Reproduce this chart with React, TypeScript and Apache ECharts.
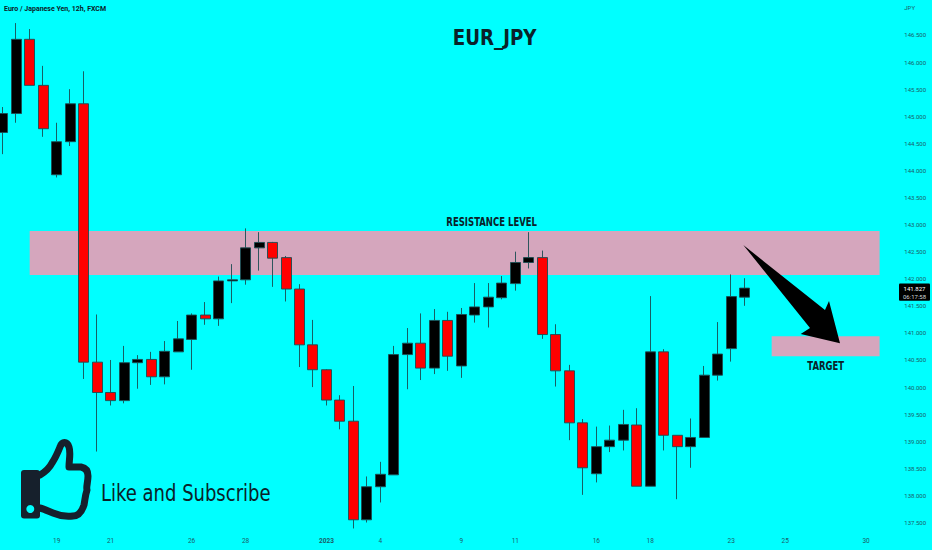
import React, { useEffect, useRef } from "react";
import * as echarts from "echarts";

const opens = [144.7,145.05,146.42,145.57,143.92,144.53,145.23,140.46,139.9,139.75,140.45,140.51,140.19,140.65,140.88,141.33,141.26,141.96,141.98,142.57,142.67,142.39,141.81,140.78,140.32,139.76,139.37,137.55,138.16,138.38,140.6,140.81,140.35,141.23,140.39,141.33,141.48,141.65,141.91,142.3,142.39,140.97,140.3,139.34,138.4,138.9,139.02,139.3,138.17,140.65,139.11,138.9,139.07,140.22,140.71,141.66];
const closes = [145.05,146.42,145.57,144.77,144.53,145.23,140.46,139.9,139.75,140.45,140.51,140.19,140.66,140.89,141.33,141.26,141.96,141.98,142.57,142.67,142.38,141.81,140.78,140.32,139.76,139.37,137.55,138.16,138.39,140.6,140.81,140.35,141.23,140.57,141.34,141.48,141.66,141.92,142.3,142.39,140.97,140.3,139.34,138.51,138.9,139.02,139.31,138.17,140.65,139.11,138.9,139.07,140.22,140.61,141.67,141.827];
const lows = [144.3,144.88,145.57,144.62,143.87,144.45,140.15,138.81,139.66,139.7,139.97,140.04,140.05,140.65,140.32,141.15,141.13,141.55,141.89,142.15,141.85,141.58,140.37,140.0,139.66,139.22,137.39,137.5,137.87,138.38,139.96,140.13,140.24,140.3,140.17,141.19,141.1,141.62,141.78,142.19,140.89,140.01,139.02,138.01,138.24,138.8,138.83,138.17,138.17,138.83,137.93,138.51,139.07,140.12,140.47,141.5];
const highs = [145.17,146.72,146.61,145.93,144.88,145.5,145.83,141.34,140.5,140.76,140.59,140.65,140.85,141.22,141.36,141.57,142.04,142.27,142.93,142.86,142.68,142.42,141.9,141.24,140.33,139.85,140.02,138.35,138.62,140.76,141.09,141.36,141.44,141.39,141.46,141.92,141.92,142.05,142.5,142.86,142.52,141.16,140.41,139.41,139.27,139.29,139.58,139.61,141.68,140.7,139.11,139.42,140.39,141.2,142.08,142.01];
const dateLabels = ["","","","","19","","","","21","","","","","","26","","","","28","","","","","","2023","","","","4","","","","","","9","","","","11","","","","","","16","","","","18","","","","","","23","","","","25","","","","","","30",""];
const resistanceZone = [142.88, 142.07];
const targetZone = [140.94, 140.57];
const zoneStart = { resistance: 2, target: 57 };
const zoneEnd = 65;
const lastPrice = "141.827";
const countdown = "06:17:58";

const thumbPath = "M40 475 C45 472 49 469 52 463 C56 457 58 452 60 447 C62 441 67 441 69 447 C71 453 69 460 69 467 L81 467 C86 468 88 471 88 476 C88 482 86 487 87 490 C85 496 85 500 84 505 C82 511 79 516 73 516 C66 517 60 516 53 513 C48 511 44 509 40 508";

const DARK = "#0a2229";
const AXIS_TEXT = "#1c5c68";
const FONT = "'DejaVu Sans', sans-serif";

export default function App() {
  const ref = useRef<HTMLDivElement>(null);
  useEffect(() => {
    document.body.style.margin = "0";
    document.body.style.overflow = "hidden";
    echarts.graphic.registerShape("thumbLine", echarts.graphic.extendPath(thumbPath, {}));
    const chart = echarts.init(ref.current!, null, { renderer: "svg" });
    chart.setOption({
      animation: false,
      backgroundColor: "#00ffff",
      grid: { left: 2.7, right: 52.4, top: 7.9, bottom: 27.5, containLabel: false },
      xAxis: {
        type: "category",
        data: dateLabels,
        boundaryGap: false,
        axisLine: { show: false },
        axisTick: { show: false },
        splitLine: { show: false },
        axisLabel: {
          interval: (_i: number, v: string) => v !== "",
          formatter: (v: string) => (v === "2023" ? "{b|2023}" : v),
          color: AXIS_TEXT,
          fontSize: 6.5,
          fontFamily: "Roboto",
          margin: 15,
          rich: { b: { fontWeight: "bold", color: AXIS_TEXT, fontSize: 6.5, fontFamily: "Roboto" } },
        },
      },
      yAxis: {
        type: "value",
        position: "right",
        min: 137.5,
        max: 147,
        interval: 0.5,
        scale: true,
        axisLine: { show: false },
        axisTick: { show: false },
        splitLine: { show: false },
        axisLabel: {
          align: "left",
          margin: 24.7,
          color: AXIS_TEXT,
          fontSize: 6,
          fontFamily: "Roboto",
          formatter: (v: number) => (v === 147 ? "JPY" : v.toFixed(3)),
        },
      },
      series: [
        {
          type: "candlestick",
          clip: false,
          barWidth: 10.5,
          data: opens.map((o, i) => [o, closes[i], lows[i], highs[i]]),
          itemStyle: {
            color: "#000000",
            color0: "#ff0000",
            borderColor: "#1a4d52",
            borderColor0: "#1a4d52",
            borderWidth: 0.9,
          },
          markArea: {
            silent: true,
            label: { show: false },
            itemStyle: { color: "#d5a6bd", opacity: 1 },
            data: [
              [{ xAxis: zoneStart.resistance, yAxis: resistanceZone[0] }, { xAxis: zoneEnd, yAxis: resistanceZone[1] }],
              [{ xAxis: zoneStart.target, yAxis: targetZone[0] }, { xAxis: zoneEnd, yAxis: targetZone[1] }],
            ],
          },
        },
      ],
      graphic: [
        { type: "text", z: 100, x: 4, y: 5, silent: true, style: { text: "Euro / Japanese Yen, 12h, FXCM", fill: DARK, font: "bold 7px Roboto" } },
        { type: "text", z: 100, x: 494.7, y: 38.3, scaleX: 0.89, silent: true, style: { text: "EUR_JPY", fill: DARK, font: `bold 20.5px ${FONT}`, align: "center", verticalAlign: "middle" } },
        { type: "text", z: 100, x: 491.7, y: 221.7, scaleX: 0.74, silent: true, style: { text: "RESISTANCE LEVEL", fill: DARK, font: `bold 11.5px ${FONT}`, align: "center", verticalAlign: "middle" } },
        { type: "text", z: 100, x: 825.7, y: 366, scaleX: 0.74, silent: true, style: { text: "TARGET", fill: DARK, font: `bold 11.5px ${FONT}`, align: "center", verticalAlign: "middle" } },
        { type: "text", z: 100, x: 101, y: 493, scaleX: 0.8, silent: true, style: { text: "Like and Subscribe", fill: DARK, font: `22.5px ${FONT}`, verticalAlign: "middle" } },
        {
          type: "polygon",
          z: 100,
          silent: true,
          shape: { points: [[743.3, 245], [825, 310], [829, 301], [840, 343.3], [800.7, 334], [810, 328]] },
          style: { fill: "#000000" },
        },
        { type: "thumbLine", z: 100, silent: true, style: { fill: "none", stroke: "#16202c", lineWidth: 7, lineJoin: "round", lineCap: "round" } },
        { type: "rect", z: 100, silent: true, shape: { x: 21, y: 470, width: 19, height: 48.5, r: 3 }, style: { fill: "#16202c" } },
        { type: "circle", z: 101, silent: true, shape: { cx: 30.3, cy: 509, r: 4 }, style: { fill: "#00ffff" } },
        { type: "rect", z: 100, silent: true, shape: { x: 899, y: 283.5, width: 31, height: 17.2, r: 1 }, style: { fill: "#000000" } },
        { type: "text", z: 101, x: 914.5, y: 288, silent: true, style: { text: lastPrice, fill: "#ffffff", font: "6px Roboto", align: "center", verticalAlign: "middle" } },
        { type: "text", z: 101, x: 914.5, y: 296, silent: true, style: { text: countdown, fill: "#cfd8d8", font: "6px Roboto", align: "center", verticalAlign: "middle" } },
      ],
    });
    return () => chart.dispose();
  }, []);
  return <div ref={ref} style={{ width: 932, height: 550, display: "block" }} />;
}
